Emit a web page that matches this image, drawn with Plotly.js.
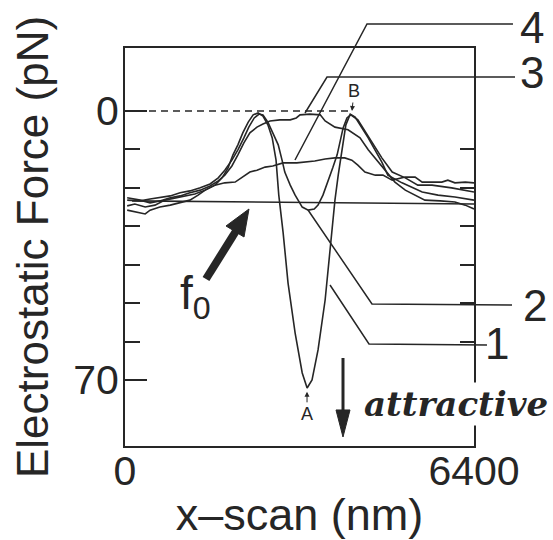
<!DOCTYPE html>
<html><head><meta charset="utf-8">
<script src="https://cdn.plot.ly/plotly-3.0.1.min.js"></script>
<style>html,body{margin:0;padding:0;background:#fff}</style>
</head><body><div id="chart" style="width:553px;height:540px"></div>
<script>
// ---- data (x-scan in nm, electrostatic force in pN; positive = attractive, drawn downward)
const scan1  = [40,180,370,550,730,920,1100,1280,1470,1650,1780,1890,1980,2070,2160,2260,2350,2440,2530,2620,2700,2770,2820,2900,2990,3120,3250,3340,3430,3540,3670,3760,3850,3910,3980,4050,4130,4220,4460,4710,4820,5080,5450,5740,6050,6400];
const force1 = [24.7,24.2,25.0,24.5,23.2,22.6,22.1,21.6,20.6,19.3,17.4,14.8,11.4,8.8,5.7,2.9,1.0,0.5,1.3,3.6,7.0,12.8,21.9,31.7,44.8,57.8,68.2,72.1,70.0,62.2,49.2,36.1,23.2,16.7,9.6,3.6,0.8,1.6,7.0,13.3,16.7,18.7,21.1,21.9,22.4,23.2];

const scan2  = [40,280,460,640,830,1010,1190,1380,1560,1710,1830,1960,2070,2180,2270,2370,2460,2530,2620,2710,2810,2880,2930,3030,3120,3250,3360,3470,3540,3630,3720,3810,3890,3940,4000,4070,4140,4270,4530,4710,4900,5140,5370,5630,5990,6400];
const force2 = [23.2,23.4,22.9,22.6,22.1,21.3,20.8,20.0,19.0,17.4,15.4,12.8,10.1,7.0,4.2,1.8,0.8,1.0,2.9,5.7,8.8,12.8,15.9,19.3,21.9,25.0,25.8,25.5,24.5,21.9,18.5,14.8,11.4,8.1,4.4,1.8,1.0,2.3,8.1,12.2,15.9,17.4,19.3,19.3,20.0,21.1];

const scan3  = [40,280,460,640,830,1010,1190,1380,1560,1710,1830,1960,2070,2180,2290,2420,2530,2660,2840,3030,3140,3210,3390,3580,3670,3850,4090,4310,4460,4620,4810,4950,5140,5320,5500,5780,6050,6240,6400];
const force3 = [22.6,23.2,23.9,23.4,22.6,22.1,21.3,20.6,19.5,18.2,16.7,14.3,11.4,8.3,5.7,4.2,3.4,2.6,2.3,2.3,1.8,1.0,0.8,1.0,2.6,4.2,4.9,7.0,10.1,12.8,15.9,18.5,20.6,21.9,23.2,23.4,23.7,24.5,25.5];

const scan4  = [40,180,370,460,640,830,1010,1190,1340,1470,1650,1830,2020,2160,2290,2420,2570,2710,2900,3150,3300,3480,3670,3850,4030,4160,4270,4400,4590,4730,4900,5140,5320,5450,5810,5920,6050,6240,6400];
const force4 = [25.8,26.3,26.8,25.8,25.0,24.5,23.9,23.2,21.9,20.6,19.3,18.7,18.5,17.2,15.9,15.4,14.6,14.3,13.5,13.5,13.3,13.0,12.5,12.2,12.2,12.8,14.1,15.9,16.7,16.7,18.0,17.2,17.2,18.5,18.5,18.0,18.7,18.5,18.7];

const zeroRefX = [0, 4160];
const zeroRefY = [0, 0];
const f0X = [130, 6400];
const f0Y = [23.4, 24.2];

const pointA = {x: 3338, y: 73.1};
const pointB = {x: 4163, y: 0};

const yTickMajor = [0, 70];
const yTickMajorText = ['0', '70'];
const yTickMinor = [10, 20, 30, 40, 50, 60];
const xTickVals = [0, 6400];
const xTickText = ['0', '6400'];
const yRange = [87.2, -16.4];
const xRange = [0, 6400];

// ---- layout helpers (pixel -> paper for decorations)
const L = 125, R = 474, T = 48, B = 446;
const px = x => (x - L) / (R - L);
const py = y => (B - y) / (B - T);
const P = (x, y) => px(x).toFixed(4) + ',' + py(y).toFixed(4);

const INK = '#262626';
const SANS = 'Liberation Sans, Arial, Helvetica, sans-serif';

function curve(x, y) {
  return {x: x, y: y, type: 'scatter', mode: 'lines', line: {color: INK, width: 1.6}, hoverinfo: 'skip', showlegend: false};
}
const traces = [
  curve(f0X, f0Y),
  Object.assign(curve(zeroRefX, zeroRefY), {line: {color: INK, width: 1.6, dash: '7px,5px'}}),
  curve(scan4, force4),
  curve(scan3, force3),
  curve(scan2, force2),
  curve(scan1, force1),
  {x: [], y: [], yaxis: 'y2', type: 'scatter', mode: 'lines', showlegend: false, hoverinfo: 'skip'}
];

function leader(pts) {
  return {type: 'path', xref: 'paper', yref: 'paper', path: 'M' + pts.map(p => P(p[0], p[1])).join(' L'), line: {color: INK, width: 1.5}};
}
function tri(a, b, c) {
  return {type: 'path', xref: 'paper', yref: 'paper', path: 'M' + P(a[0], a[1]) + ' L' + P(b[0], b[1]) + ' L' + P(c[0], c[1]) + ' Z', fillcolor: INK, line: {color: INK, width: 1}};
}
function seg(a, b, w) {
  return {type: 'line', xref: 'paper', yref: 'paper', x0: px(a[0]), y0: py(a[1]), x1: px(b[0]), y1: py(b[1]), line: {color: INK, width: w}};
}

const shapes = [
  leader([[295,160],[367,24],[513,24]]),
  leader([[305,113],[327,77],[515,77]]),
  leader([[308,210],[372,304],[512,305]]),
  leader([[330,285],[369,344],[487,345]]),
  // f0 arrow
  seg([206,279],[236,231], 8),
  tri([249,209],[244,237],[226,226]),
  // attractive arrow
  seg([343,358],[343,414], 3),
  tri([336,410],[350,410],[343,437])
];

function label(t, x, y, size) {
  return {text: t, xref: 'paper', yref: 'paper', x: px(x), y: py(y), xanchor: 'center', yanchor: 'middle', showarrow: false, font: {family: SANS, size: size, color: INK}};
}
const annotations = [
  label('4', 532, 27, 44),
  label('3', 532, 72, 44),
  label('2', 535, 305, 44),
  label('1', 497, 343, 44),
  label('f<sub>0</sub>', 195, 296, 46),
  {text: 'B', x: pointB.x, y: pointB.y, xref: 'x', yref: 'y', showarrow: true, arrowhead: 2, arrowwidth: 1, arrowsize: 1, arrowcolor: INK, ax: 2, ay: -20, font: {family: SANS, size: 18, color: INK}},
  {text: 'A', x: pointA.x, y: pointA.y, xref: 'x', yref: 'y', showarrow: true, arrowhead: 2, arrowwidth: 1, arrowsize: 1, arrowcolor: INK, ax: 0, ay: 22, font: {family: SANS, size: 18, color: INK}},
  {text: '<b><i>attractive</i></b>', xref: 'paper', yref: 'paper', x: px(362), y: py(404), xanchor: 'left', yanchor: 'middle', showarrow: false, bgcolor: '#ffffff', font: {family: 'DejaVu Serif, serif', size: 34, color: INK}}
];

const layout = {
  width: 553, height: 540,
  margin: {l: L, r: 553 - R, t: T, b: 540 - B, pad: 0},
  paper_bgcolor: '#ffffff', plot_bgcolor: '#ffffff',
  showlegend: false,
  xaxis: {range: xRange, showgrid: false, zeroline: false, showline: true, mirror: true, linewidth: 2, linecolor: INK,
          ticks: '', tickvals: xTickVals, ticktext: xTickText, ticklabelstandoff: -12, tickfont: {family: SANS, size: 41, color: INK},
          title: {text: 'x–scan (nm)', font: {family: SANS, size: 45, color: INK}, standoff: 15}},
  yaxis: {range: yRange, showgrid: false, zeroline: false, showline: true, mirror: true, linewidth: 2, linecolor: INK,
          ticks: 'inside', ticklen: 22, tickwidth: 2, tickcolor: INK, tickvals: yTickMajor, ticktext: yTickMajorText,
          minor: {tickmode: 'array', tickvals: yTickMinor, ticks: 'inside', ticklen: 15, tickwidth: 2, tickcolor: INK, showgrid: false},
          ticklabelstandoff: -4, tickfont: {family: SANS, size: 41, color: INK},
          title: {text: 'Electrostatic Force (pN)', font: {family: SANS, size: 44, color: INK}, standoff: 11}},
  yaxis2: {range: yRange, overlaying: 'y', side: 'right', anchor: 'x', showgrid: false, zeroline: false, showline: false,
           ticks: 'inside', ticklen: 14, tickwidth: 2, tickcolor: INK, tickvals: yTickMinor, showticklabels: false},
  shapes: shapes,
  annotations: annotations
};

Plotly.newPlot('chart', traces, layout, {displayModeBar: false, staticPlot: true});
</script></body></html>
